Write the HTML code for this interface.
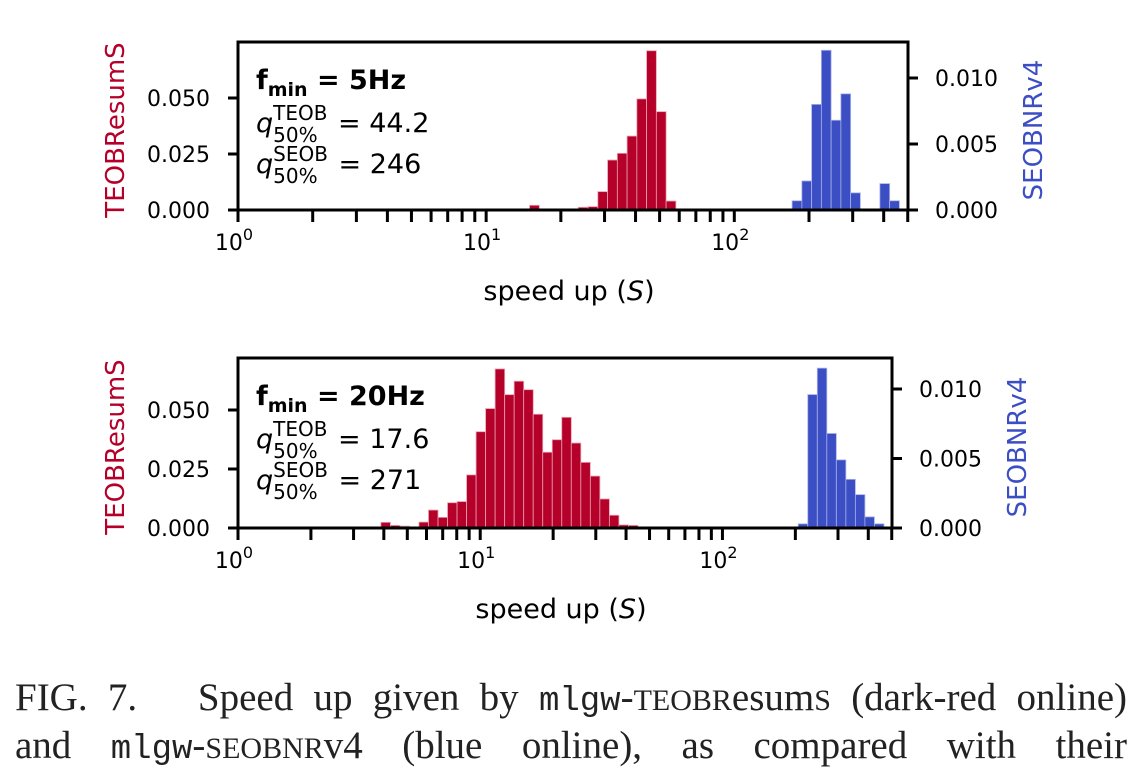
<!DOCTYPE html>
<html><head><meta charset="utf-8">
<style>
body{margin:0;background:#fff;width:1142px;height:778px;overflow:hidden;position:relative}
svg{position:absolute;left:0;top:0}
.cap{position:absolute;left:15px;font-family:"Liberation Serif",serif;font-size:39px;line-height:40px;color:#222;white-space:nowrap}
.mono{font-family:"Liberation Mono",monospace;font-size:34px}
.sc{font-size:30px}
</style></head><body>
<svg id="chart" width="1142" height="660" font-family="DejaVu Sans, Liberation Sans, sans-serif"></svg>
<div class="cap" id="cap1" style="top:678px">FIG. 7.&nbsp;&nbsp; Speed up given by <span class="mono">mlgw</span>-<span class="sc">TEOBR</span>esum<span class="sc">S</span> (dark-red online)</div>
<div class="cap" id="cap2" style="top:726px">and <span class="mono">mlgw</span>-<span class="sc">SEOBNR</span>v4 (blue online), as compared with their</div>
<script>
// ---- data ----
const binWidth = 0.0393;
const topRedStart = 1.175;
const topRed = [0.0021,0,0,0,0,0.0012,0.0015,0.0082,0.0223,0.0253,0.033,0.0496,0.0711,0.0439,0.004];
const topBlueStart = 2.233;
const topBlue = [0.0007,0.0022,0.0080,0.0121,0.0068,0.0088,0.0013,0,0,0.0020,0.0007];
const botRedStart = 0.590;
const botRed = [0.0024,0.0011,0.0008,0.0004,0.0025,0.0076,0.0045,0.0107,0.0112,0.0225,0.0408,0.0506,0.0674,0.0565,0.0622,0.0586,0.0482,0.0321,0.0374,0.0469,0.036,0.0278,0.022,0.0123,0.0054,0.0013,0.0011];
const botBlueStart = 2.313;
const botBlue = [0.0003,0.0096,0.0115,0.0068,0.0049,0.0035,0.0024,0.0008,0.0003];
const leftTicks = [0, 0.025, 0.05];
const leftTickLabels = ["0.000","0.025","0.050"];
const rightTicks = [0, 0.005, 0.01];
const rightTickLabels = ["0.000","0.005","0.010"];
const xMajor = [0,1,2];
const xMax = 2.70;
const panelTexts = [["5Hz","44.2","246"],["20Hz","17.6","271"]];

const NS="http://www.w3.org/2000/svg";
const svg=document.getElementById('chart');
function mk(tag,attrs,parent){const e=document.createElementNS(NS,tag);for(const k in attrs)e.setAttribute(k,attrs[k]);(parent||svg).appendChild(e);return e;}
const RED="#b5002a", BLUE="#3c4ec4";

function panel(idx,top,bottom,right,lMax,rMax,redStart,red,blueStart,blue){
  const L=238;
  const g=mk('g',{});
  
  
  const x=v=>L+(v/xMax)*(right-L);
  const yl=v=>bottom-(v/0.025)*lMax;
  const yr=v=>bottom-(v/0.005)*rMax;
  red.forEach((v,i)=>{ if(v<=0)return;
    const a=x(redStart+i*binWidth), b=x(redStart+(i+1)*binWidth);
    const r=mk('rect',{x:a,y:yl(v),width:b-a,height:bottom-yl(v),fill:RED,stroke:"#e8a0b0","stroke-width":0.8},g);
    
    
  });
  blue.forEach((v,i)=>{ if(v<=0)return;
    const a=x(blueStart+i*binWidth), b=x(blueStart+(i+1)*binWidth);
    const r=mk('rect',{x:a,y:yr(v),width:b-a,height:bottom-yr(v),fill:BLUE,stroke:"#a8b2ea","stroke-width":0.8},g);
    
    
  });
  const box=mk('rect',{x:L,y:top,width:right-L,height:bottom-top,fill:"none",stroke:"#000","stroke-width":3},g);
  
  
  for(let d=0;d<3;d++){for(let m=1;m<10;m++){const lv=d+Math.log10(m); if(lv>xMax)continue;
    mk('line',{x1:x(lv),x2:x(lv),y1:bottom,y2:bottom+12,stroke:"#000","stroke-width":3},g);}}
  xMajor.forEach(d=>{const t=mk('text',{x:x(d)-4,y:bottom+40,"font-size":22,"text-anchor":"middle"},g);
    
    
    t.innerHTML='10<tspan dy="-10" font-size="16">'+d+'</tspan>';});
  const xl=mk('text',{x:x(xMax/2)-4,y:bottom+90,"font-size":27,"text-anchor":"middle"},g);
  
  
  xl.innerHTML='speed up (<tspan font-style="italic">S</tspan>)';
  leftTicks.forEach((v,i)=>{mk('line',{x1:L-10,x2:L,y1:yl(v),y2:yl(v),stroke:"#000","stroke-width":3},g);
    const t=mk('text',{x:L-28,y:yl(v)+8,"font-size":22,"text-anchor":"end"},g);t.textContent=leftTickLabels[i];
    
    });
  rightTicks.forEach((v,i)=>{mk('line',{x1:right,x2:right+10,y1:yr(v),y2:yr(v),stroke:"#000","stroke-width":3},g);
    const t=mk('text',{x:right+27,y:yr(v)+8,"font-size":22},g);t.textContent=rightTickLabels[i];
    
    });
  const mid=(top+bottom)/2;
  const ly=mk('text',{x:0,y:0,"font-size":26,fill:RED,"text-anchor":"middle",transform:`translate(124,${mid+4}) rotate(-90)`},g);
  
  
  ly.textContent='TEOBResumS';
  const ry=mk('text',{x:0,y:0,"font-size":26,fill:BLUE,"text-anchor":"middle",transform:`translate(${right+134},${mid+4}) rotate(-90)`},g);
  
  
  ry.textContent='SEOBNRv4';
  const pt=panelTexts[idx];
  const t1=mk('text',{x:256,y:top+47,"font-size":27,"font-weight":"bold"},g);
  
  
  t1.innerHTML='f<tspan dy="7" font-size="19">min</tspan><tspan dy="-7"> = '+pt[0]+'</tspan>';
  [["TEOB",pt[1],90],["SEOB",pt[2],131]].forEach(r=>{
    const t=mk('text',{x:256,y:top+r[2],"font-size":27},g);
    
    
    const q=mk('tspan',{"font-style":"italic"},t);q.textContent='q';
    const sup=mk('tspan',{dy:-12,"font-size":20},t);sup.textContent=r[0];
    const sub=mk('tspan',{dy:22,"font-size":20},t);sub.textContent='50%';
    const tail=mk('tspan',{dy:-10},t);tail.textContent=' = '+r[1];
    const a=sup.getComputedTextLength(), b=sub.getComputedTextLength();
    sub.setAttribute('dx',-a);
    tail.setAttribute('dx',Math.max(a-b,0)+2);
  });
}
panel(0,42,210,908,56,66,topRedStart,topRed,topBlueStart,topBlue);
panel(1,358,528,892,59,69.5,botRedStart,botRed,botBlueStart,botBlue);

function fit(id,target){const el=document.getElementById(id);
  const txt=el.textContent; const n=(txt.match(/[ \u00a0]/g)||[]).length;
  const w=el.getBoundingClientRect().width;
  el.style.wordSpacing=Math.max((target-w)/n,-4)+'px';}
fit('cap1',1112);fit('cap2',1112);
</script>
</body></html>
